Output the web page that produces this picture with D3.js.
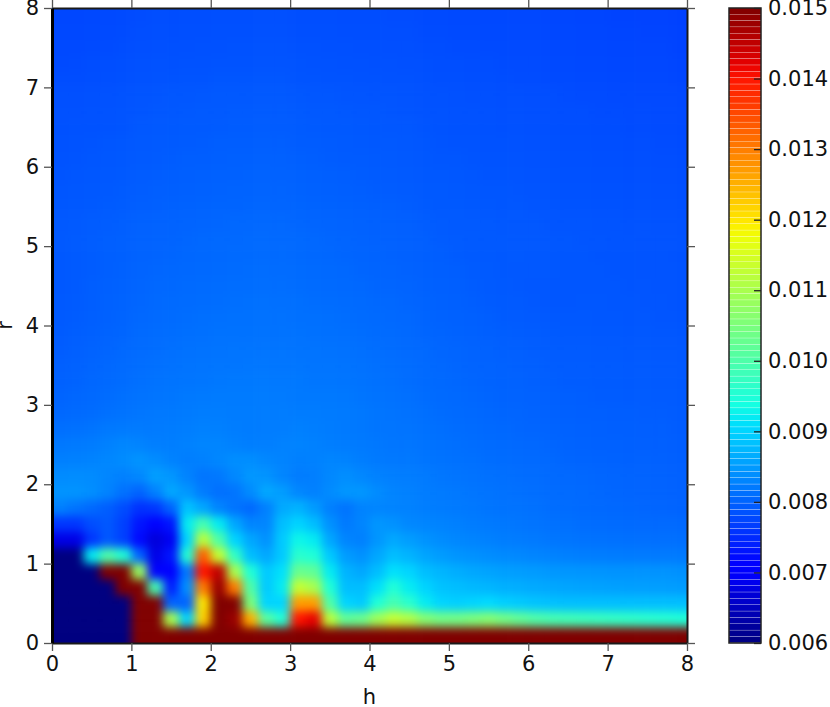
<!DOCTYPE html>
<html lang="en">
<head>
<meta charset="UTF-8">
<title>h r map</title>
<script src="https://d3js.org/d3.v7.min.js"></script>
<style>
  html, body { margin: 0; padding: 0; background: #fff; }
  svg { display: block; }
  text { font-family: "DejaVu Sans", sans-serif; font-size: 21px; fill: #111; }
</style>
</head>
<body>
<svg id="chart" width="830" height="707"></svg>
<script>
// values in units of 1e-5, top row is r = 7.8-8.0, bottom row r = 0-0.2, left column h = 0-0.2
var heatRows = [
[775,775,776,777,778,779,780,780,781,781,782,782,782,782,782,781,781,781,780,780,780,779,779,778,778,777,777,776,776,775,775,774,774,773,773,772,772,771,771,770],
[776,776,777,778,779,780,781,781,782,782,783,783,783,783,783,782,782,782,781,781,781,780,780,779,779,778,778,777,777,776,776,775,775,774,774,773,773,772,772,771],
[777,777,778,779,780,781,782,783,783,784,784,785,785,785,785,784,784,783,783,782,782,781,781,780,780,779,779,778,778,777,777,776,776,775,775,774,774,773,773,772],
[778,779,780,781,782,783,784,784,785,785,786,786,786,786,786,786,785,785,784,784,783,783,782,782,781,781,780,780,779,778,778,777,777,776,776,775,775,774,774,773],
[780,780,781,782,783,784,785,786,787,787,788,788,788,788,788,787,787,786,786,785,785,784,784,783,782,782,781,781,780,779,779,778,778,777,777,776,776,775,775,774],
[782,782,783,784,785,786,787,788,788,789,790,790,790,790,790,789,788,788,787,787,786,786,785,784,784,783,782,782,781,781,780,780,779,778,778,777,777,776,776,776],
[783,783,784,785,786,787,788,789,790,791,791,792,792,792,792,791,790,790,789,788,788,787,786,785,785,784,784,783,782,782,781,781,780,780,779,779,778,778,777,777],
[784,785,785,786,787,789,790,791,792,792,793,794,794,794,793,793,792,791,791,790,789,788,788,787,786,785,785,784,783,783,782,782,781,781,780,780,779,779,778,778],
[785,786,787,788,789,790,791,792,793,794,795,795,795,795,795,794,794,793,792,791,790,790,789,788,787,786,786,785,785,784,783,783,782,782,781,781,780,780,779,779],
[786,787,788,789,790,791,792,794,795,795,796,797,797,797,797,796,795,794,793,793,792,791,790,789,788,788,787,786,786,785,784,784,783,783,782,782,781,781,780,780],
[787,788,789,790,791,793,794,795,796,797,798,798,799,799,798,798,797,796,795,794,793,792,791,790,790,789,788,787,787,786,785,785,784,784,783,783,782,782,781,781],
[788,789,790,791,793,794,795,796,797,798,799,800,800,800,800,799,798,797,796,795,794,793,792,791,791,790,789,788,788,787,786,786,785,785,784,784,783,783,782,782],
[789,790,791,793,794,795,796,798,799,800,801,801,802,802,801,801,800,799,798,797,796,795,794,792,791,791,790,789,788,788,787,787,786,786,785,785,784,784,783,783],
[790,791,793,794,795,797,798,799,800,801,802,803,803,803,803,802,801,800,799,798,797,796,795,794,792,791,791,790,789,788,788,787,787,787,786,786,785,785,784,784],
[790,792,794,795,796,798,799,800,802,803,804,804,805,805,804,804,803,802,801,799,798,797,796,795,793,792,791,790,790,789,789,788,788,787,787,786,786,785,785,785],
[790,792,794,796,797,799,800,802,803,804,805,806,806,806,806,805,804,803,802,801,800,798,797,796,795,793,792,791,790,790,789,789,788,788,787,787,787,786,786,785],
[790,792,794,796,798,800,802,803,804,805,806,807,808,808,807,807,806,805,804,802,801,800,798,797,796,795,793,792,790,789,789,789,788,788,788,787,787,786,786,786],
[790,792,795,797,799,801,803,804,806,807,808,809,809,809,809,808,807,806,805,804,802,801,800,798,797,796,794,792,791,789,788,788,788,788,788,788,787,787,786,786],
[791,793,795,798,800,802,804,806,807,808,809,810,811,811,810,810,809,808,807,806,804,803,801,800,798,797,795,793,792,791,789,788,788,789,789,788,788,787,787,786],
[792,794,796,798,801,803,805,807,809,810,811,812,812,812,812,811,811,810,809,807,806,804,803,801,799,798,797,795,793,792,791,790,790,790,789,789,788,788,787,787],
[793,795,797,800,802,805,807,809,810,811,813,813,813,813,813,813,812,811,810,809,807,806,804,802,801,799,798,796,795,794,793,792,791,791,790,790,789,789,788,788],
[794,796,799,801,804,806,808,810,812,813,814,815,815,815,815,814,814,813,812,810,809,807,805,804,802,801,799,798,796,795,794,793,792,792,791,791,790,790,789,789],
[796,798,801,803,806,808,810,812,814,815,816,816,817,817,816,816,815,815,814,812,810,809,807,805,803,802,800,799,798,796,795,794,793,793,792,792,791,791,790,790],
[798,800,803,805,808,810,813,815,816,817,818,819,819,819,818,818,817,817,816,814,812,810,808,806,805,803,802,800,799,798,796,795,794,794,793,793,792,792,791,791],
[801,803,805,808,811,813,815,817,819,820,821,821,821,821,820,819,819,819,818,816,814,812,810,808,806,805,803,802,800,799,798,797,796,795,794,794,793,793,792,792],
[804,806,808,811,814,816,818,819,821,823,823,822,822,822,822,822,822,821,820,818,816,814,812,810,808,806,805,803,802,801,799,798,797,796,796,795,795,794,794,793],
[810,812,815,819,820,820,820,822,824,826,825,823,822,822,823,825,824,822,820,818,816,815,814,812,810,808,807,805,804,802,801,800,799,798,797,796,796,795,795,794],
[818,820,822,826,832,828,824,824,826,830,830,826,824,824,826,828,826,824,822,820,818,816,816,814,812,810,809,807,806,804,803,802,800,799,798,798,797,796,796,795],
[825,826,828,832,836,842,836,828,824,826,832,838,838,832,828,825,826,830,828,824,820,818,818,816,814,812,811,809,808,806,805,804,802,801,800,799,798,798,797,796],
[835,836,835,830,825,832,852,845,828,815,818,832,846,842,830,822,824,832,838,832,826,824,822,820,817,815,813,811,810,808,807,805,804,803,802,801,800,799,798,797],
[842,842,838,828,812,800,825,860,845,822,810,815,835,860,850,832,825,835,845,845,835,828,825,822,820,818,816,814,812,810,809,807,806,805,803,802,801,800,799,798],
[825,815,805,795,780,755,760,800,885,860,830,815,805,825,862,870,850,825,815,828,830,828,826,824,822,820,818,816,814,813,811,809,808,806,805,804,803,802,801,800],
[760,760,780,790,770,730,700,730,920,990,920,860,830,830,880,900,880,840,820,830,845,840,832,830,828,825,822,820,818,816,814,812,811,809,808,807,806,805,805,805],
[680,680,760,790,770,720,670,690,900,1120,1000,900,860,840,890,930,920,860,830,825,845,860,850,842,836,832,829,826,823,821,819,817,816,814,813,812,811,810,810,810],
[600,600,920,1000,950,800,680,730,950,1330,1130,970,880,860,890,960,950,890,850,840,860,880,870,858,850,844,840,837,834,832,829,827,825,824,823,822,821,820,820,820],
[600,600,600,1500,1500,1080,700,700,820,1400,1450,1100,950,890,910,1030,1020,920,870,860,880,910,900,880,872,865,860,856,853,850,848,846,845,844,843,842,842,842,842,840],
[600,600,600,600,1500,1500,990,740,840,1300,1480,1300,1000,890,920,1130,1100,950,880,880,910,950,920,900,885,880,876,872,868,865,862,860,858,856,855,854,853,852,851,850],
[600,600,600,600,600,1500,1500,800,800,1200,1500,1500,1050,900,900,1270,1270,1000,900,890,950,990,960,920,900,895,900,905,895,890,885,882,880,880,880,880,880,880,880,880],
[600,600,600,600,600,1500,1500,1100,900,1220,1500,1480,1250,1010,950,1400,1420,1120,1020,1030,1090,1130,1110,1060,1040,1040,1050,1060,1040,1020,1000,990,985,980,975,970,965,960,955,950],
[600,600,600,600,600,1500,1500,1500,1500,1500,1500,1500,1500,1500,1500,1500,1500,1500,1500,1500,1500,1500,1500,1500,1500,1500,1500,1500,1500,1500,1500,1500,1500,1500,1500,1500,1500,1500,1500,1500]
];
var axisTicks = [0, 1, 2, 3, 4, 5, 6, 7, 8];
var barTicks = [600, 700, 800, 900, 1000, 1100, 1200, 1300, 1400, 1500];
var xTitle = "h";
var yTitle = "r";

// jet colormap break points
var jetRed = [[0, 0.35, 0.66, 0.89, 1], [0, 0, 1, 1, 0.5]];
var jetGreen = [[0, 0.125, 0.375, 0.64, 0.91, 1], [0, 0, 1, 1, 0, 0]];
var jetBlue = [[0, 0.11, 0.34, 0.65, 1], [0.5, 1, 1, 0, 0]];

var redScale = d3.scaleLinear().domain(jetRed[0]).range(jetRed[1]);
var greenScale = d3.scaleLinear().domain(jetGreen[0]).range(jetGreen[1]);
var blueScale = d3.scaleLinear().domain(jetBlue[0]).range(jetBlue[1]);
var norm = d3.scaleLinear().domain([600, 1500]).range([0, 1]).clamp(true);

function jet(v) {
    var t = norm(v);
    return d3.rgb(redScale(t) * 255, greenScale(t) * 255, blueScale(t) * 255).formatHex();
}

var left = 52, right = 687, top_ = 8, bottom = 643;
var x = d3.scaleLinear().domain([0, 8]).range([left, right]);
var y = d3.scaleLinear().domain([0, 8]).range([bottom, top_]);
var cell = 0.2;
var bleed = 16; // edge cells run past the frame so the blur does not fade there

var svg = d3.select("#chart");
var defs = svg.append("defs");

defs.append("clipPath").attr("id", "frame").append("rect")
    .attr("x", left).attr("y", top_).attr("width", right - left).attr("height", bottom - top_);

defs.append("filter").attr("id", "soft")
    .attr("filterUnits", "userSpaceOnUse")
    .attr("x", 0).attr("y", -30).attr("width", 740).attr("height", 720)
    .attr("color-interpolation-filters", "sRGB")
    .append("feGaussianBlur").attr("stdDeviation", 5);

// flatten the rows into cells
var cells = [];
heatRows.forEach(function(row, i) {
    row.forEach(function(v, j) {
        cells.push({ col: j, row: heatRows.length - 1 - i, value: v });
    });
});

var nCols = heatRows[0].length, nRows = heatRows.length;

svg.append("g").attr("clip-path", "url(#frame)")
    .append("g").attr("filter", "url(#soft)")
    .selectAll("rect")
    .data(cells)
    .enter().append("rect")
    .attr("x", d => x(d.col * cell) - (d.col === 0 ? bleed : 0))
    .attr("y", d => y((d.row + 1) * cell) - (d.row === nRows - 1 ? bleed : 0))
    .attr("width", d => x((d.col + 1) * cell) - x(d.col * cell) + 0.5 + (d.col === 0 || d.col === nCols - 1 ? bleed : 0))
    .attr("height", d => y(d.row * cell) - y((d.row + 1) * cell) + 0.5 + (d.row === 0 || d.row === nRows - 1 ? bleed : 0))
    .attr("fill", d => jet(d.value));

// axes, ticks point outward on all four sides
function styleAxis(g) {
    g.selectAll(".domain").attr("stroke", "#1a1a1a").attr("stroke-width", 2);
    g.selectAll(".tick line").attr("stroke", "#555").attr("stroke-width", 1.3);
    g.selectAll("text").attr("fill", "#111").style("font-size", "21px").style("font-family", "'DejaVu Sans', sans-serif");
}

svg.append("g").attr("transform", "translate(0," + bottom + ")")
    .call(d3.axisBottom(x).tickValues(axisTicks).tickSize(8).tickSizeOuter(0).tickPadding(5).tickFormat(d3.format("d")))
    .call(styleAxis);
svg.append("g").attr("transform", "translate(0," + top_ + ")")
    .call(d3.axisTop(x).tickValues(axisTicks).tickSize(8).tickSizeOuter(0).tickFormat(""))
    .call(styleAxis);
svg.append("g").attr("transform", "translate(" + right + ",0)")
    .call(d3.axisRight(y).tickValues(axisTicks).tickSize(8).tickSizeOuter(0).tickFormat(""))
    .call(styleAxis);
var leftAxis = svg.append("g").attr("transform", "translate(" + left + ",0)")
    .call(d3.axisLeft(y).tickValues(axisTicks).tickSize(8).tickSizeOuter(0).tickPadding(5).tickFormat(d3.format("d")))
    .call(styleAxis);
leftAxis.select(".domain").attr("stroke", "#000").attr("stroke-width", 3);

svg.append("text").attr("x", (left + right) / 2).attr("y", 704)
    .attr("text-anchor", "middle").text(xTitle);
svg.append("text").attr("transform", "translate(12," + (top_ + bottom) / 2 + ") rotate(-90)")
    .attr("text-anchor", "middle").text(yTitle);

// colorbar, drawn as separate bands like the reference
var barLeft = 729, barRight = 761;
var barY = d3.scaleLinear().domain([600, 1500]).range([bottom, top_]);
var levels = d3.range(100);
var step = 9;

svg.append("g").selectAll("rect")
    .data(levels)
    .enter().append("rect")
    .attr("x", barLeft)
    .attr("width", barRight - barLeft)
    .attr("y", d => barY(600 + (d + 1) * step))
    .attr("height", d => barY(600 + d * step) - barY(600 + (d + 1) * step) - 0.35)
    .attr("fill", d => jet(600 + (d + 0.5) * step));

svg.append("rect")
    .attr("x", barLeft).attr("y", top_).attr("width", barRight - barLeft).attr("height", bottom - top_)
    .attr("fill", "none").attr("stroke", "#222").attr("stroke-width", 1.5);

var barAxis = svg.append("g").attr("transform", "translate(" + barRight + ",0)")
    .call(d3.axisRight(barY).tickValues(barTicks).tickSize(-7).tickSizeOuter(0).tickPadding(7)
        .tickFormat(d => (d / 100000).toFixed(3)))
    .call(styleAxis);
barAxis.select(".domain").remove();
barAxis.selectAll(".tick line").attr("stroke", "#222");
</script>
</body>
</html>
